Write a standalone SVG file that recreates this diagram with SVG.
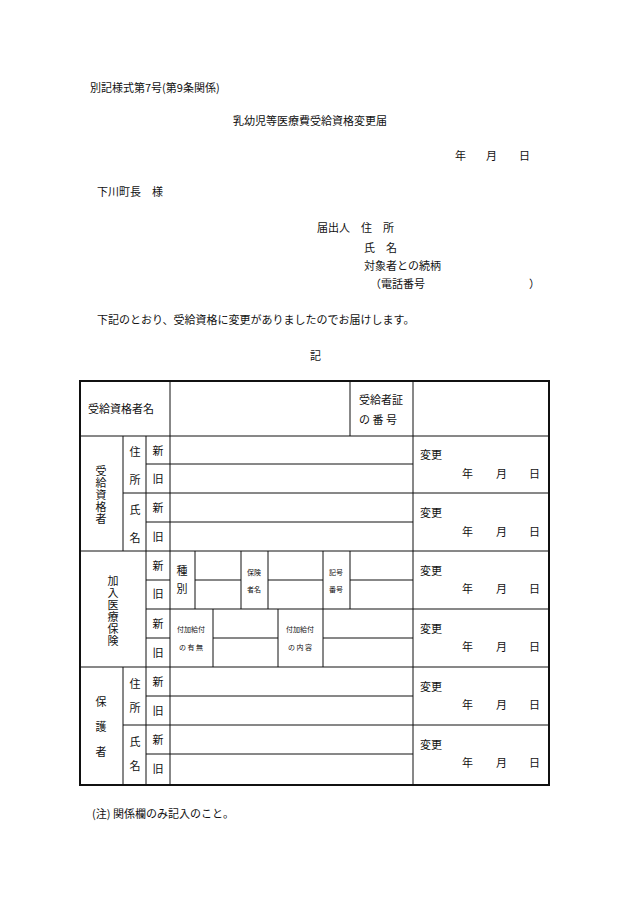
<svg xmlns="http://www.w3.org/2000/svg" width="630" height="903" viewBox="0 0 630 903">
<style>
text{font-family:"Noto Sans CJK JP","Liberation Serif",serif;fill:#111;font-size:11px}
.s{font-size:7px}
.vt{font-size:11px;writing-mode:vertical-rl;letter-spacing:1px}
line{stroke:#111;stroke-width:1}
</style>
<rect width="630" height="903" fill="#fff"/>
<text x="90" y="92">別記様式第7号(第9条関係)</text>
<text x="233" y="125" font-size="12">乳幼児等医療費受給資格変更届</text>
<text x="455" y="160">年</text><text x="486" y="160">月</text><text x="519" y="160">日</text>
<text x="97" y="196">下川町長　様</text>
<text x="317" y="232">届出人　住　所</text>
<text x="364" y="252">氏　名</text>
<text x="364" y="270">対象者との続柄</text>
<text x="370" y="288">（電話番号</text><text x="529" y="288">）</text>
<text x="97" y="324">下記のとおり、受給資格に変更がありましたのでお届けします。</text>
<text x="310" y="360">記</text>
<g id="table" fill="none">
<rect x="80" y="381" width="469" height="404" fill="none" stroke="#111" stroke-width="2"/>
<g id="lines">
<line x1="80" y1="436" x2="549" y2="436"/>
<line x1="80" y1="551" x2="549" y2="551"/>
<line x1="80" y1="667" x2="549" y2="667"/>
<line x1="123" y1="493" x2="413" y2="493"/>
<line x1="123" y1="725" x2="549" y2="725"/>
<line x1="413" y1="493" x2="549" y2="493"/>
<line x1="146" y1="609" x2="549" y2="609"/>
<line x1="146" y1="464" x2="413" y2="464"/>
<line x1="146" y1="522" x2="413" y2="522"/>
<line x1="146" y1="696" x2="413" y2="696"/>
<line x1="146" y1="754" x2="413" y2="754"/>
<line x1="146" y1="580" x2="170" y2="580"/>
<line x1="195" y1="580" x2="241" y2="580"/>
<line x1="268" y1="580" x2="323" y2="580"/>
<line x1="350" y1="580" x2="413" y2="580"/>
<line x1="146" y1="638" x2="170" y2="638"/>
<line x1="213" y1="638" x2="278" y2="638"/>
<line x1="323" y1="638" x2="413" y2="638"/>
<line x1="123" y1="436" x2="123" y2="551"/>
<line x1="123" y1="667" x2="123" y2="785"/>
<line x1="146" y1="436" x2="146" y2="785"/>
<line x1="170" y1="381" x2="170" y2="785"/>
<line x1="350" y1="381" x2="350" y2="436"/>
<line x1="413" y1="381" x2="413" y2="785"/>
<line x1="195" y1="551" x2="195" y2="609"/>
<line x1="241" y1="551" x2="241" y2="609"/>
<line x1="268" y1="551" x2="268" y2="609"/>
<line x1="323" y1="551" x2="323" y2="609"/>
<line x1="350" y1="551" x2="350" y2="609"/>
<line x1="213" y1="609" x2="213" y2="667"/>
<line x1="278" y1="609" x2="278" y2="667"/>
<line x1="323" y1="609" x2="323" y2="667"/>
</g>
</g>
<g id="labels">
<text x="88" y="413">受給資格者名</text>
<text x="359" y="404">受給者証</text>
<text x="359" y="424">の 番 号</text>
<text class="vt" x="101" y="465">受給資格者</text>
<text class="vt" x="113" y="575">加入医療保険</text>
<g text-anchor="middle">
<text x="101" y="706">保</text><text x="101" y="731">護</text><text x="101" y="756">者</text>
<text x="135" y="456">住</text><text x="135" y="484">所</text>
<text x="135" y="514">氏</text><text x="135" y="542">名</text>
<text x="135" y="688">住</text><text x="135" y="712">所</text>
<text x="135" y="746">氏</text><text x="135" y="770">名</text>
<text x="158" y="455">新</text><text x="158" y="483">旧</text>
<text x="158" y="512">新</text><text x="158" y="541">旧</text>
<text x="158" y="570">新</text><text x="158" y="598">旧</text>
<text x="158" y="628">新</text><text x="158" y="657">旧</text>
<text x="158" y="686">新</text><text x="158" y="715">旧</text>
<text x="158" y="744">新</text><text x="158" y="773">旧</text>
<text x="182" y="575">種</text><text x="182" y="593">別</text>
<text x="254" y="575" class="s">保険</text><text x="254" y="592" class="s">者名</text>
<text x="336" y="575" class="s">記号</text><text x="336" y="592" class="s">番号</text>
<text x="191" y="632" class="s">付加給付</text><text x="191" y="650" class="s">の 有 無</text>
<text x="300" y="632" class="s">付加給付</text><text x="300" y="650" class="s">の 内 容</text>
</g>
<g id="henkou">
<text x="420" y="459">変更</text><text x="462" y="478">年</text><text x="496" y="478">月</text><text x="529" y="478">日</text>
<text x="420" y="517">変更</text><text x="462" y="536">年</text><text x="496" y="536">月</text><text x="529" y="536">日</text>
<text x="420" y="575">変更</text><text x="462" y="593">年</text><text x="496" y="593">月</text><text x="529" y="593">日</text>
<text x="420" y="633">変更</text><text x="462" y="651">年</text><text x="496" y="651">月</text><text x="529" y="651">日</text>
<text x="420" y="691">変更</text><text x="462" y="709">年</text><text x="496" y="709">月</text><text x="529" y="709">日</text>
<text x="420" y="749">変更</text><text x="462" y="767">年</text><text x="496" y="767">月</text><text x="529" y="767">日</text>
</g>
</g>
<text x="92" y="818">(注) 関係欄のみ記入のこと。</text>
</svg>
